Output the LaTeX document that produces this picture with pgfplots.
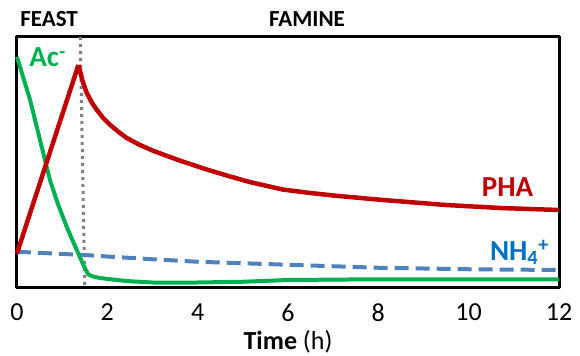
\documentclass[border=0pt]{standalone}
\usepackage{pgfplots}
\pgfplotsset{compat=1.18}
\usepackage{fontspec}
\setmainfont{Carlito}
\definecolor{phared}{HTML}{C00000}
\definecolor{acgreen}{HTML}{00B050}
\definecolor{nhblue}{HTML}{4F81BD}
\definecolor{nhlabel}{HTML}{0070C0}
\begin{document}
\begin{tikzpicture}
\begin{axis}[
  scale only axis,
  width=542bp, height=250bp,
  xmin=0, xmax=12, ymin=0, ymax=100,
  xtick={0,2,4,6,8,10,12},
  ytick=\empty,
  major tick length=0pt,
  axis line style={line width=3bp},
  /pgf/number format/assume math mode=true,
  xticklabel style={font=\fontsize{26bp}{30bp}\selectfont, yshift=-13bp},
  xlabel={\textbf{Time} (h)},
  xlabel style={font=\fontsize{26bp}{30bp}\selectfont, yshift=-2bp},
  clip=false,
  line join=round,
]
% dotted boundary feast/famine
\addplot[color=gray, line width=3bp, dash pattern=on 3bp off 4bp] coordinates {(1.40,100) (1.50,0)};
% NH4+
\addplot[color=nhblue, line width=4bp, dash pattern=on 14bp off 7bp] coordinates {
(0,14.1) (1.5,12.8) (2,12.2) (3,11.1) (4,10.1) (6,8.9) (8,7.7) (10,7.1) (12,6.8)};
% Ac-
\addplot[color=acgreen, line width=4bp] coordinates {
(0,92) (0.29,74.8) (0.5,59.5) (0.73,42.8) (0.9,33.5) (1.1,24.1) (1.25,17.8) (1.39,12.1) (1.5,7.6) (1.58,5.0) (1.7,4.1) (1.84,3.6) (2.2,2.8) (2.5,2.3) (3,1.8) (4,1.8) (5,2.1) (6,2.8) (8,3.1) (12,3.1)};
% PHA rise
\addplot[color=phared, line width=4.5bp] coordinates {(0,13.5) (1.36,88.8)};
% PHA decay
\addplot[color=phared, line width=4.5bp] coordinates {
(1.36,88.8) (1.45,82.5) (1.54,77.8) (1.65,74.0) (1.76,71.0) (1.9,67.8) (2.06,64.9) (2.25,62.0) (2.43,59.6) (2.7,57.0) (3.0,54.6) (3.16,53.5) (3.6,50.6) (4.2,47.0) (4.7,44.3) (5.15,42.0) (5.88,39.0) (6.5,37.6) (7,36.6) (8.1,34.8) (9.5,32.8) (10.7,31.6) (12,30.8)};
% labels
\node[anchor=base west, inner sep=0, text=acgreen, font=\fontsize{29bp}{33bp}\selectfont\bfseries] at (axis cs:0.27,88) {Ac\textsuperscript{-}};
\node[anchor=base west, inner sep=0, text=phared, font=\fontsize{29bp}{33bp}\selectfont\bfseries] at (axis cs:10.29,36.4) {PHA};
\node[anchor=base west, inner sep=0, text=nhlabel, font=\fontsize{29bp}{33bp}\selectfont\bfseries] at (axis cs:10.47,10.8) {NH$_{\mathbf{4}}$\textsuperscript{+}};
\node[anchor=base west, inner sep=0, font=\fontsize{23bp}{27bp}\selectfont\bfseries] at (axis cs:0.07,104) {FEAST};
\node[anchor=base, inner sep=0, font=\fontsize{23bp}{27bp}\selectfont\bfseries] at (axis cs:6.42,104) {FAMINE};
\end{axis}
\pgfresetboundingbox
\path ([xshift=-17bp,yshift=-69bp]current axis.south west) rectangle ([xshift=21bp,yshift=37bp]current axis.north east);
\end{tikzpicture}
\end{document}
